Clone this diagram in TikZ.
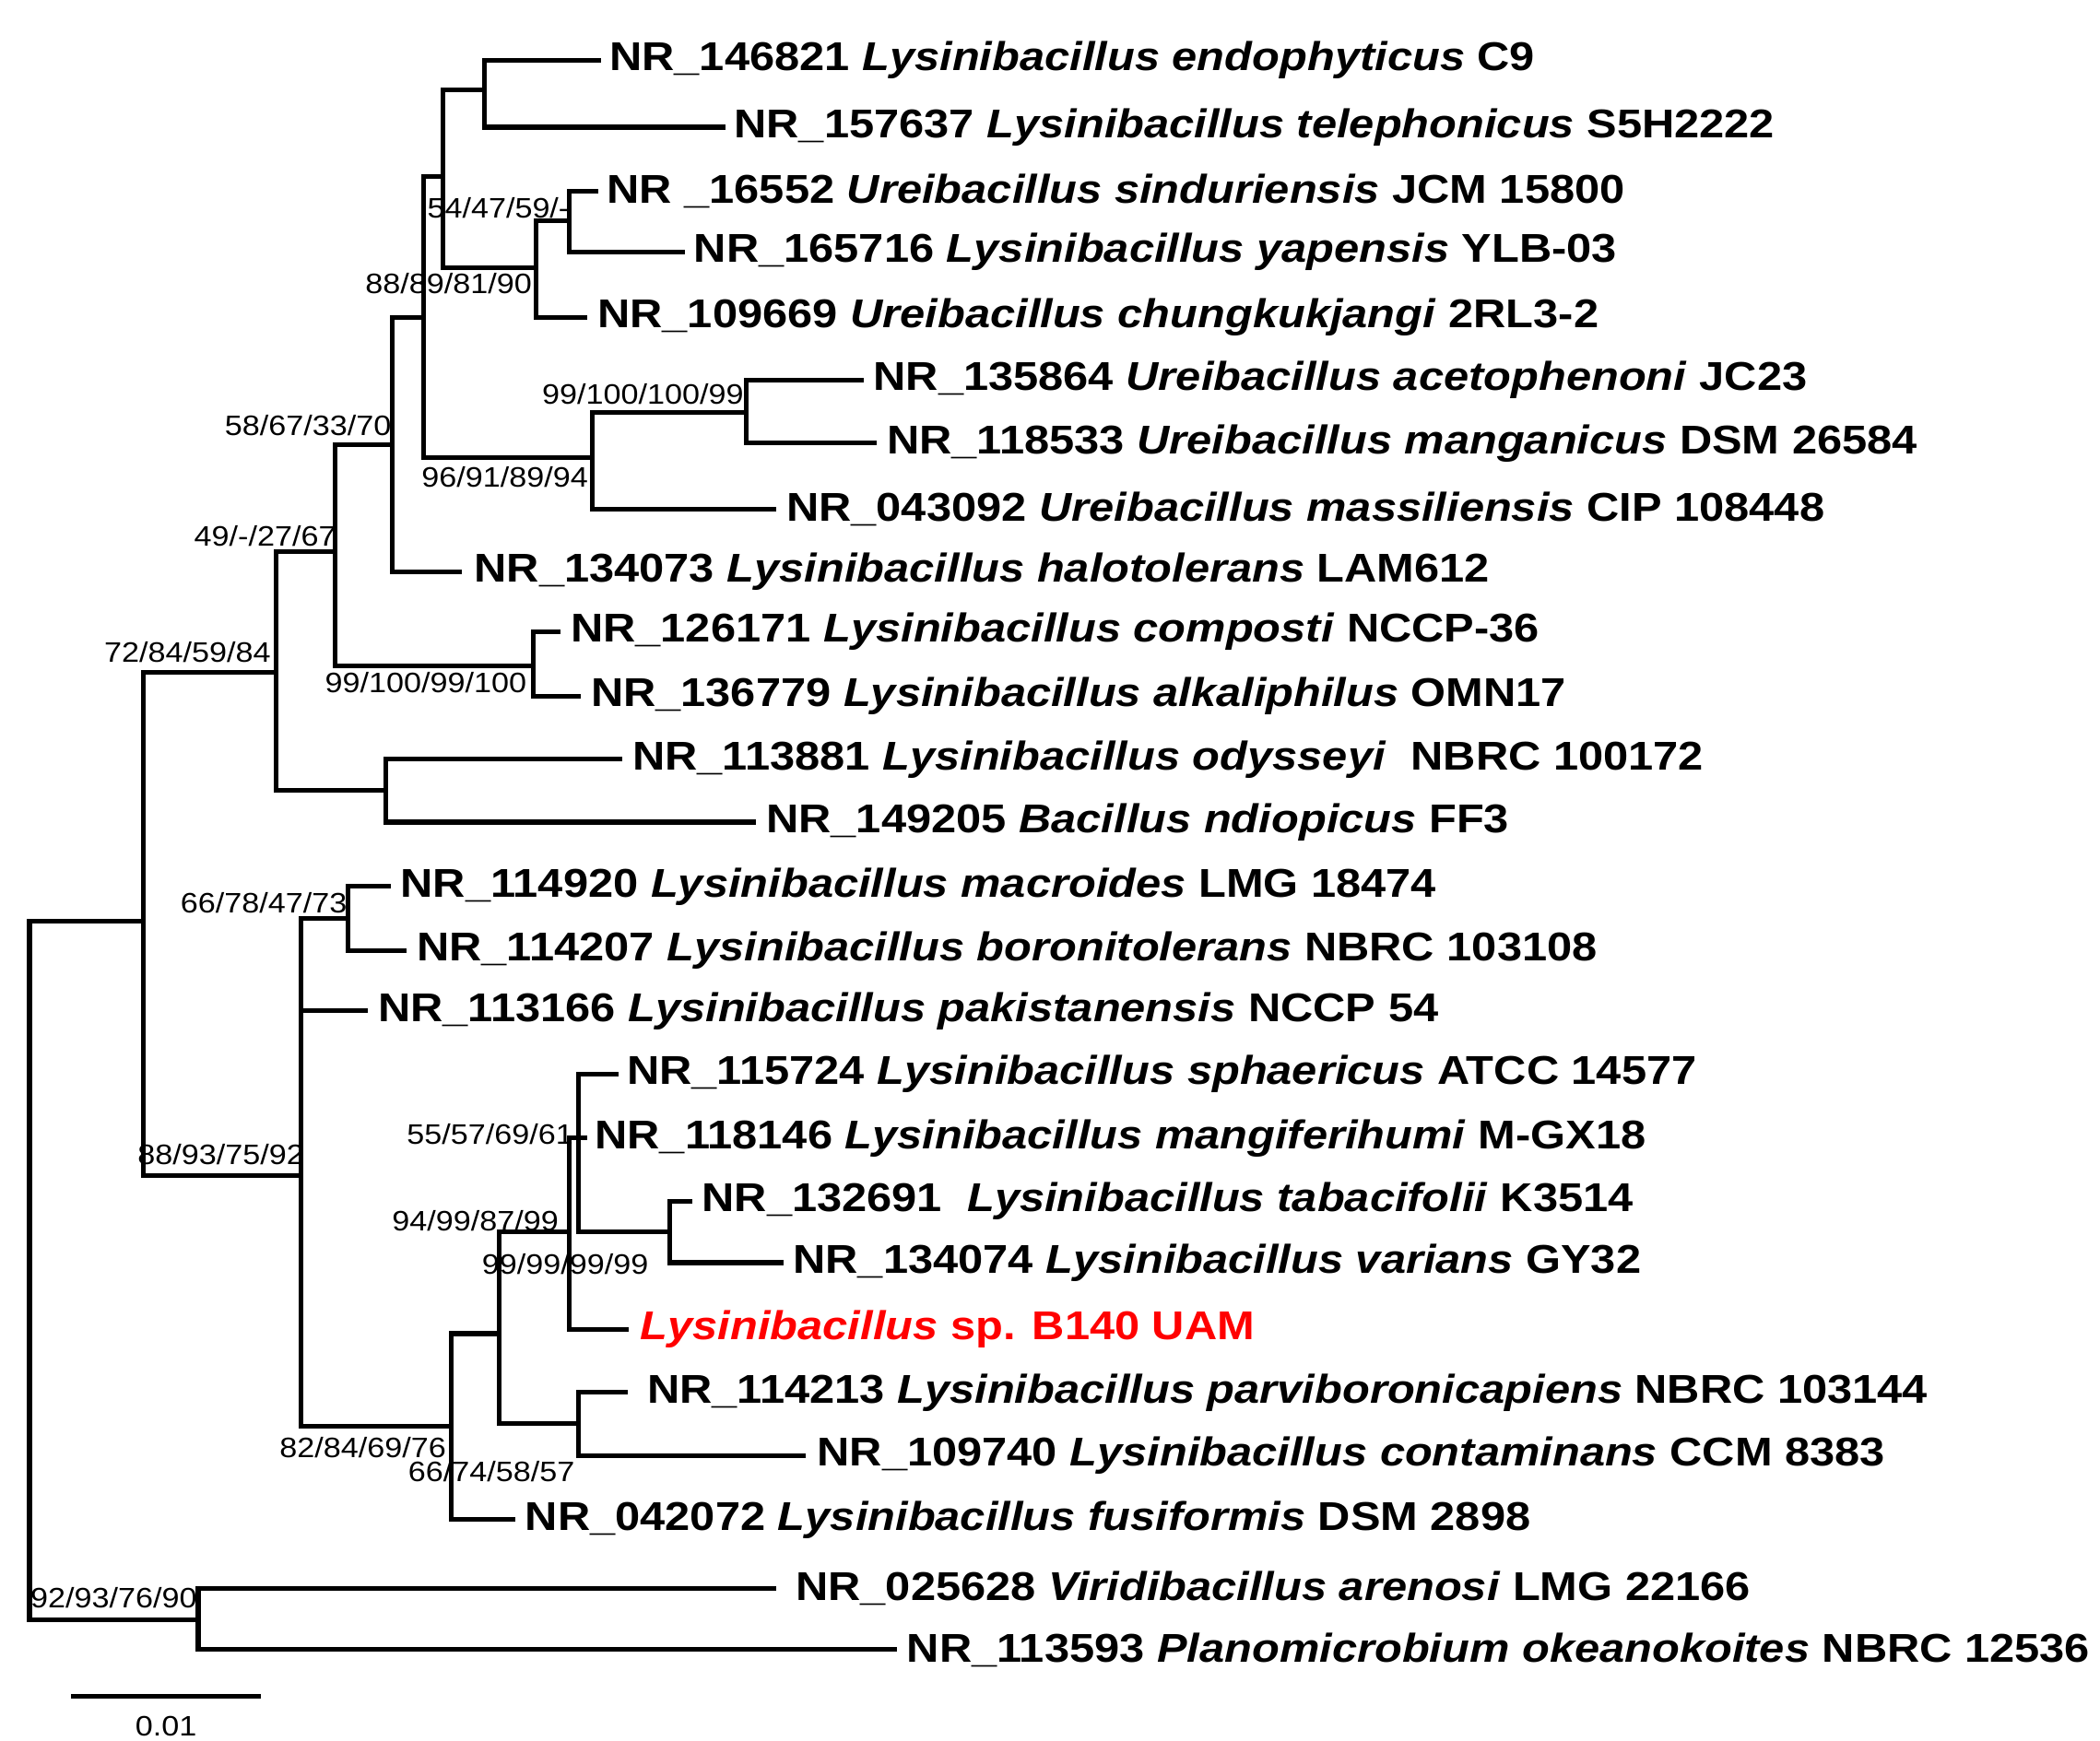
\documentclass[tikz,border=0pt]{standalone}
\usepackage{fontspec}
\setmainfont{Liberation Sans}
\begin{document}
\begin{tikzpicture}[x=1pt,y=-1pt,
  br/.style={line width=3.5pt,line cap=rect},
  tip/.style={anchor=west,font=\fontsize{30}{31}\selectfont\bfseries,inner sep=0pt,xscale=1.12},
  sup/.style={font=\fontsize{21}{22}\selectfont,inner sep=0pt,xscale=1.12}]
\fill[white] (0,0) rectangle (1568,1300);
% root
\draw[br] (22,688)--(22,1210);
\draw[br] (22,688)--(107,688);
\draw[br] (22,1210)--(148,1210);
\draw[br] (107,502)--(107,878);
\draw[br] (107,502)--(206,502);
\draw[br] (206,412)--(206,590);
\draw[br] (206,412)--(250,412);
\draw[br] (250,332)--(250,497);
\draw[br] (250,332)--(293,332);
\draw[br] (293,237)--(293,427);
\draw[br] (293,237)--(316,237);
\draw[br] (316,132)--(316,342);
\draw[br] (316,132)--(331,132);
\draw[br] (331,67)--(331,200);
\draw[br] (331,67)--(362,67);
\draw[br] (362,45)--(362,95);
\draw[br] (362,45)--(447,45);
\draw[br] (362,95)--(540,95);
\draw[br] (331,200)--(400,200);
\draw[br] (400,165)--(400,237);
\draw[br] (400,165)--(425,165);
\draw[br] (425,143)--(425,188);
\draw[br] (425,143)--(445,143);
\draw[br] (425,188)--(510,188);
\draw[br] (400,237)--(437,237);
\draw[br] (316,342)--(442,342);
\draw[br] (442,308)--(442,380);
\draw[br] (442,308)--(557,308);
\draw[br] (557,284)--(557,331);
\draw[br] (557,284)--(643,284);
\draw[br] (557,331)--(653,331);
\draw[br] (442,380)--(578,380);
\draw[br] (293,427)--(343,427);
\draw[br] (250,497)--(398,497);
\draw[br] (398,472)--(398,520);
\draw[br] (398,472)--(417,472);
\draw[br] (398,520)--(432,520);
\draw[br] (206,590)--(288,590);
\draw[br] (288,567)--(288,614);
\draw[br] (288,567)--(463,567);
\draw[br] (288,614)--(563,614);
\draw[br] (107,878)--(225,878);
\draw[br] (225,686)--(225,1065);
\draw[br] (225,686)--(260,686);
\draw[br] (260,662)--(260,710);
\draw[br] (260,662)--(290,662);
\draw[br] (260,710)--(302,710);
\draw[br] (225,755)--(273,755);
\draw[br] (225,1065)--(337,1065);
\draw[br] (337,996)--(337,1135);
\draw[br] (337,996)--(373,996);
\draw[br] (373,920)--(373,1063);
\draw[br] (373,920)--(425,920);
\draw[br] (425,850)--(425,993);
\draw[br] (425,850)--(432,850);
\draw[br] (432,802)--(432,920);
\draw[br] (432,802)--(460,802);
\draw[br] (432,850)--(437,850);
\draw[br] (432,920)--(500,920);
\draw[br] (500,897)--(500,943);
\draw[br] (500,897)--(515,897);
\draw[br] (500,943)--(583,943);
\draw[br] (425,993)--(468,993);
\draw[br] (373,1063)--(432,1063);
\draw[br] (432,1040)--(432,1087);
\draw[br] (432,1040)--(467,1040);
\draw[br] (432,1087)--(600,1087);
\draw[br] (337,1135)--(383,1135);
\draw[br] (148,1186)--(148,1232);
\draw[br] (148,1186)--(578,1186);
\draw[br] (148,1232)--(668,1232);
% tips
\node[tip] (t1) at (455,45) {NR\_146821 \textit{Lysinibacillus endophyticus} C9};
\node[tip] (t2) at (548,95) {NR\_157637 \textit{Lysinibacillus telephonicus} S5H2222};
\node[tip] (t3) at (453,143) {NR \_16552 \textit{Ureibacillus sinduriensis} JCM 15800};
\node[tip] (t4) at (518,188) {NR\_165716 \textit{Lysinibacillus yapensis} YLB-03};
\node[tip] (t5) at (446,237) {NR\_109669 \textit{Ureibacillus chungkukjangi} 2RL3-2};
\node[tip] (t6) at (652,284) {NR\_135864 \textit{Ureibacillus acetophenoni} JC23};
\node[tip] (t7) at (662,331) {NR\_118533 \textit{Ureibacillus manganicus} DSM 26584};
\node[tip] (t8) at (587,380) {NR\_043092 \textit{Ureibacillus massiliensis} CIP 108448};
\node[tip] (t9) at (354,427) {NR\_134073 \textit{Lysinibacillus halotolerans} LAM612};
\node[tip] (t10) at (426,472) {NR\_126171 \textit{Lysinibacillus composti} NCCP-36};
\node[tip] (t11) at (441,520) {NR\_136779 \textit{Lysinibacillus alkaliphilus} OMN17};
\node[tip] (t12) at (472,567) {NR\_113881 \textit{Lysinibacillus odysseyi}\ \ NBRC 100172};
\node[tip] (t13) at (572,614) {NR\_149205 \textit{Bacillus ndiopicus} FF3};
\node[tip] (t14) at (299,662) {NR\_114920 \textit{Lysinibacillus macroides} LMG 18474};
\node[tip] (t15) at (311,710) {NR\_114207 \textit{Lysinibacillus boronitolerans} NBRC 103108};
\node[tip] (t16) at (282,755) {NR\_113166 \textit{Lysinibacillus pakistanensis} NCCP 54};
\node[tip] (t17) at (468,802) {NR\_115724 \textit{Lysinibacillus sphaericus} ATCC 14577};
\node[tip] (t18) at (444,850) {NR\_118146 \textit{Lysinibacillus mangiferihumi} M-GX18};
\node[tip] (t19) at (524,897) {NR\_132691\ \ \textit{Lysinibacillus tabacifolii} K3514};
\node[tip] (t20) at (592,943) {NR\_134074 \textit{Lysinibacillus varians} GY32};
\node[tip,text=red] (t21) at (478,993) {\textit{Lysinibacillus} sp. B140 UAM};
\node[tip] (t22) at (483,1040) {NR\_114213 \textit{Lysinibacillus parviboronicapiens} NBRC 103144};
\node[tip] (t23) at (610,1087) {NR\_109740 \textit{Lysinibacillus contaminans} CCM 8383};
\node[tip] (t24) at (392,1135) {NR\_042072 \textit{Lysinibacillus fusiformis} DSM 2898};
\node[tip] (t25) at (594,1186) {NR\_025628 \textit{Viridibacillus arenosi} LMG 22166};
\node[tip] (t26) at (677,1232) {NR\_113593 \textit{Planomicrobium okeanokoites} NBRC 12536};
% supports
\node[sup] (s1) at (372,155) {54/47/59/-};
\node[sup] (s2) at (335,212) {88/89/81/90};
\node[sup] (s3) at (480,294) {99/100/100/99};
\node[sup] (s4) at (230,318) {58/67/33/70};
\node[sup] (s5) at (377,356) {96/91/89/94};
\node[sup] (s6) at (198,400) {49/-/27/67};
\node[sup] (s7) at (140,487) {72/84/59/84};
\node[sup] (s8) at (318,510) {99/100/99/100};
\node[sup] (s9) at (197,674) {66/78/47/73};
\node[sup] (s10) at (366,847) {55/57/69/61};
\node[sup] (s11) at (165,862) {88/93/75/92};
\node[sup] (s12) at (355,912) {94/99/87/99};
\node[sup] (s13) at (422,944) {99/99/99/99};
\node[sup] (s14) at (271,1081) {82/84/69/76};
\node[sup] (s15) at (367,1099) {66/74/58/57};
\node[sup] (s16) at (85,1193) {92/93/76/90};
% scale bar
\draw[br] (55,1267)--(193,1267);
\node[sup] (sc) at (124,1289) {0.01};
\end{tikzpicture}
\end{document}
